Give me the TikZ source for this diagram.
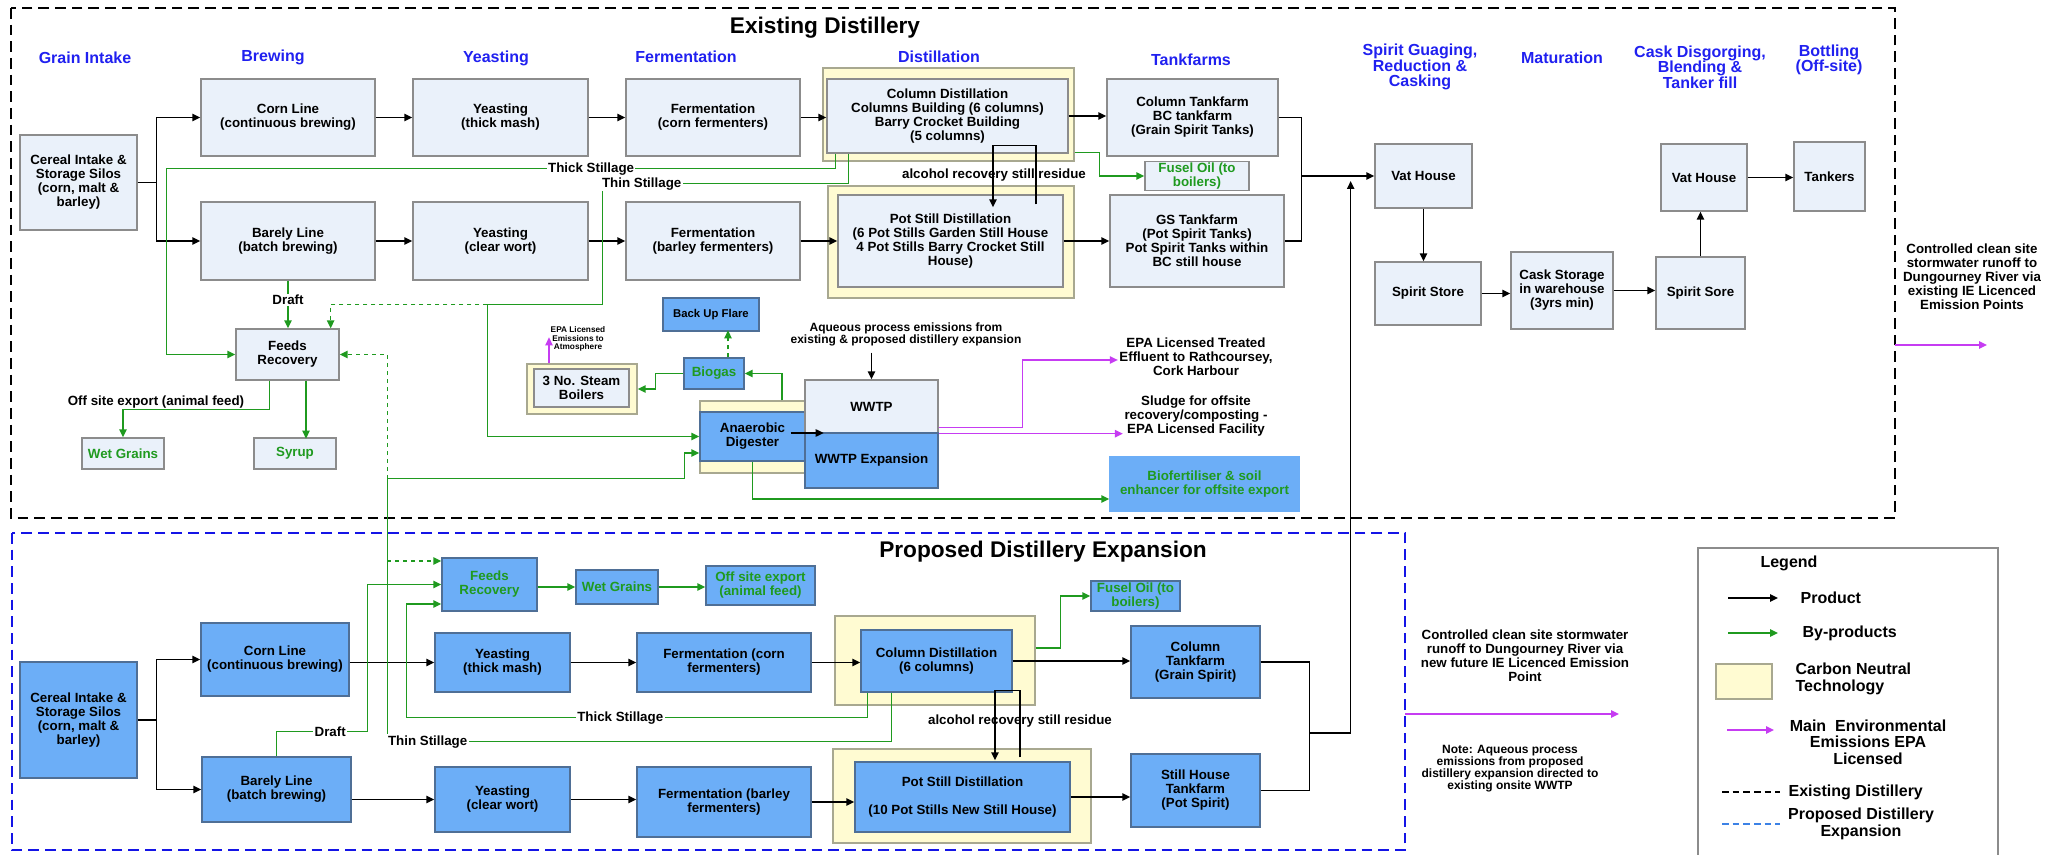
\documentclass[tikz,border=0pt]{standalone}
\usepackage{fontspec}
\setmainfont{Liberation Sans}
\usepackage{tikz}
\usetikzlibrary{arrows.meta, calc}
\definecolor{boxfill}{HTML}{EAF1FA}
\definecolor{boxline}{HTML}{8C8C8C}
\definecolor{bluefill}{HTML}{6CAEF7}
\definecolor{blueline}{HTML}{4F6F96}
\definecolor{cntfill}{HTML}{FFFBD2}
\definecolor{cntline}{HTML}{A8A890}
\definecolor{bygreen}{HTML}{1F9A1F}
\definecolor{emispink}{HTML}{C63CF2}
\definecolor{hdrblue}{HTML}{2020F0}
\definecolor{propblue}{HTML}{1414E6}
\definecolor{legblue}{HTML}{3C82E6}
\tikzset{
  sz/.style 2 args = {minimum width=#1*0.75pt, minimum height=#2*0.75pt},
  procbox/.style = {rectangle, draw=boxline, fill=boxfill, line width=1pt, align=center, inner sep=1pt, font=\fontsize{10}{10.5}\selectfont\bfseries},
  proc_b/.style = {procbox, draw=blueline, fill=bluefill},
  proc_g/.style = {proc_b, text=bygreen},
  cnt_y/.style = {rectangle, draw=cntline, fill=cntfill, line width=1pt},
  hdr/.style = {align=center, text=hdrblue, font=\fontsize{12}{11.6}\selectfont\bfseries},
  lbl/.style = {align=center, inner sep=1pt, font=\fontsize{10}{10.5}\selectfont\bfseries},
  note/.style = {lbl, font=\fontsize{9}{9}\selectfont\bfseries},
  lgd/.style = {lbl, font=\fontsize{12}{12.5}\selectfont\bfseries},
  wire/.style = {draw=black, line width=1.2pt},
  prod/.style = {wire, -{Triangle[length=6pt,width=5.5pt]}},
  byp/.style = {draw=bygreen, line width=1.1pt, -{Triangle[length=6pt,width=5.5pt]}},
  emis/.style = {draw=emispink, line width=1.1pt, -{Triangle[length=6pt,width=5.5pt]}},
  exist_fr/.style = {draw=black, line width=2.2pt, dash pattern=on 8pt off 4.5pt},
  prop_fr/.style = {draw=propblue, line width=2.2pt, dash pattern=on 8pt off 4.5pt}
}
\begin{document}
\begin{tikzpicture}[x=0.75pt, y=-0.75pt]
\useasboundingbox (0,0) rectangle (2053,855);
\fill[white] (0,0) rectangle (2053,855);
\draw[exist_fr] (11,8) rectangle (1895,518);
\draw[prop_fr] (12,533) rectangle (1405,850);
\node[font=\fontsize{17}{17}\selectfont\bfseries] (t_exist) at (825,28) {Existing Distillery};
\node[font=\fontsize{17}{17}\selectfont\bfseries] (t_prop) at (1043,552) {Proposed Distillery Expansion};

\node[hdr] (h_grain) at (85,58) {Grain Intake};
\node[hdr] (h_brew) at (273,57) {Brewing};
\node[hdr] (h_yeast) at (496,58) {Yeasting};
\node[hdr] (h_ferm) at (686,57) {Fermentation};
\node[hdr] (h_dist) at (939,57) {Distillation};
\node[hdr] (h_tank) at (1191,60) {Tankfarms};
\node[hdr] (h_spirit) at (1420,67) {Spirit Guaging,\\Reduction \&\\Casking};
\node[hdr] (h_mat) at (1562,58) {Maturation};
\node[hdr] (h_cask) at (1700,67) {Cask Disgorging,\\Blending \&\\Tanker fill};
\node[hdr] (h_bottle) at (1829,60) {Bottling\\(Off-site)};

\node[cnt_y, sz={251}{93}] (coldist_y) at (948.5,114.5) {};
\node[cnt_y, sz={246}{112}] (potdist_y) at (951,242) {};
\node[cnt_y, sz={110}{50}] (boil_y) at (582,389) {};
\node[cnt_y, sz={105}{72}] (ad_y) at (752.5,437) {};
\node[cnt_y, sz={200}{89}] (coldist2_y) at (935,660.5) {};
\node[cnt_y, sz={258}{94}] (potdist2_y) at (962,796) {};

\node[procbox, sz={117}{95}] (cereal) at (78.5,182.5) {Cereal Intake \&\\Storage Silos\\(corn, malt \&\\barley)};
\node[procbox, sz={174}{77}] (corn) at (288,117.5) {Corn Line\\(continuous brewing)};
\node[procbox, sz={175}{77}] (yeast_a) at (500.5,117.5) {Yeasting\\(thick mash)};
\node[procbox, sz={174}{77}] (ferm_a) at (713,117.5) {Fermentation\\(corn fermenters)};
\node[procbox, sz={241}{74}] (coldist) at (947.5,116) {Column Distillation\\Columns Building (6 columns)\\Barry Crocket Building\\(5 columns)};
\node[procbox, sz={171}{77}] (tank_a) at (1192.5,117.5) {Column Tankfarm\\BC tankfarm\\(Grain Spirit Tanks)};
\node[procbox, sz={174}{78}] (barley) at (288,241) {Barely Line\\(batch brewing)};
\node[procbox, sz={175}{78}] (yeast_b) at (500.5,241) {Yeasting\\(clear wort)};
\node[procbox, sz={174}{78}] (ferm_b) at (713,241) {Fermentation\\(barley fermenters)};
\node[procbox, sz={225}{92}] (potdist) at (950.5,241) {Pot Still Distillation\\(6 Pot Stills Garden Still House\\4 Pot Stills Barry Crocket Still\\House)};
\node[procbox, sz={174}{92}] (tank_b) at (1197,241) {GS Tankfarm\\(Pot Spirit Tanks)\\Pot Spirit Tanks within\\BC still house};
\node[procbox, sz={104}{26}, text=bygreen] (fusel) at (1197,176) {Fusel Oil (to\\boilers)};
\node[procbox, sz={97}{64}] (vat_a) at (1423.5,176) {Vat House};
\node[procbox, sz={106}{63}] (store) at (1428,293.5) {Spirit Store};
\node[procbox, sz={102}{77}] (cask) at (1562,290.5) {Cask Storage\\in warehouse\\(3yrs min)};
\node[procbox, sz={89}{72}] (sore) at (1700.5,293) {Spirit Sore};
\node[procbox, sz={86}{67}] (vat_b) at (1704,177.5) {Vat House};
\node[procbox, sz={71}{69}] (tankers) at (1829.5,176.5) {Tankers};
\node[procbox, sz={103}{51}] (feeds) at (287.5,354.5) {Feeds\\Recovery};
\node[procbox, sz={82}{31}, text=bygreen] (wet) at (123,453.5) {Wet Grains};
\node[procbox, sz={82}{31}, text=bygreen] (syrup) at (295,453.5) {Syrup};
\node[procbox, sz={95}{38}] (boil) at (581.5,388) {3 No. Steam\\Boilers};
\node[proc_b, sz={96}{33}, font=\fontsize{8.5}{9}\selectfont\bfseries] (flare) at (711,314.5) {Back Up Flare};
\node[proc_g, sz={60}{31}] (biogas) at (714,373.5) {Biogas};
\node[proc_b, sz={105}{49}] (ad) at (752.5,436.5) {Anaerobic\\Digester};
\node[procbox, sz={133}{53}] (wwtp) at (871.5,406.5) {WWTP};
\node[proc_b, sz={133}{55}] (wwtp_x) at (871.5,460.5) {WWTP Expansion};
\node[proc_g, sz={189}{54}, draw=bluefill] (biofert) at (1204.5,484) {Biofertiliser \& soil\\enhancer for offsite export};

\node[proc_b, sz={117}{116}] (cereal2) at (78.5,720) {Cereal Intake \&\\Storage Silos\\(corn, malt \&\\barley)};
\node[proc_b, sz={148}{73}] (corn2) at (275,659.5) {Corn Line\\(continuous brewing)};
\node[proc_b, sz={149}{65}] (barley2) at (276.5,789.5) {Barely Line\\(batch brewing)};
\node[proc_b, sz={135}{59}] (yeast_a2) at (502.5,662.5) {Yeasting\\(thick mash)};
\node[proc_b, sz={135}{65}] (yeast_b2) at (502.5,799.5) {Yeasting\\(clear wort)};
\node[proc_g, sz={95}{53}] (feeds2) at (489.5,584.5) {Feeds\\Recovery};
\node[proc_g, sz={82}{34}] (wet2) at (617,587) {Wet Grains};
\node[proc_g, sz={109}{39}] (offsite2) at (760.5,585.5) {Off site export\\(animal feed)};
\node[proc_b, sz={174}{59}] (ferm_a2) at (724,662.5) {Fermentation (corn\\fermenters)};
\node[proc_b, sz={174}{70}] (ferm_b2) at (724,802) {Fermentation (barley\\fermenters)};
\node[proc_b, sz={151}{62}] (coldist2) at (936.5,661) {Column Distillation\\(6 columns)};
\node[proc_g, sz={89}{30}] (fusel2) at (1135.5,596) {Fusel Oil (to\\boilers)};
\node[proc_b, sz={129}{72}] (tank_a2) at (1195.5,662) {Column\\Tankfarm\\(Grain Spirit)};
\node[proc_b, sz={215}{70}] (potdist2) at (962.5,797) {Pot Still Distillation\\[10pt](10 Pot Stills New Still House)};
\node[proc_b, sz={129}{73}] (tank_b2) at (1195.5,790.5) {Still House\\Tankfarm\\(Pot Spirit)};

\node[lbl] (l_offsite) at (156,402) {Off site export (animal feed)};
\node[lbl] (l_alc) at (994,175) {alcohol recovery still residue};
\node[lbl] (l_alc2) at (1020,721) {alcohol recovery still residue};
\node[lbl, font=\fontsize{6.2}{6.5}\selectfont\bfseries] (l_epa_atm) at (578,339) {EPA Licensed\\Emissions to\\Atmosphere};
\node[note] (l_aqueous) at (906,334) {Aqueous process emissions from\\existing \& proposed distillery expansion};
\node[lbl] (eff) at (1196,357) {EPA Licensed Treated\\Effluent to Rathcoursey,\\Cork Harbour};
\node[lbl] (sludge) at (1196,416) {Sludge for offsite\\recovery/composting -\\EPA Licensed Facility};
\node[lbl] (storm_a) at (1972,277) {Controlled clean site\\stormwater runoff to\\Dungourney River via\\existing IE Licenced\\Emission Points};
\node[lbl] (storm_b) at (1525,656) {Controlled clean site stormwater\\runoff to Dungourney River via\\new future IE Licenced Emission\\Point};
\node[note] (note_b) at (1510,769) {Note: Aqueous process\\emissions from proposed\\distillery expansion directed to\\existing onsite WWTP};

\draw[prod] (cereal.east) -- ++(19,0) coordinate (split_a) |- (corn.west);
\draw[prod] (split_a) |- (barley.west);
\draw[prod] (corn.east) -- (yeast_a.west);
\draw[prod] (yeast_a.east) -- (ferm_a.west);
\draw[prod] (ferm_a.east) -- (ferm_a.east -| coldist.west);
\draw[prod] (coldist.east) -- (coldist.east -| tank_a.west);
\draw[prod] (barley.east) -- (yeast_b.west);
\draw[prod] (yeast_b.east) -- (ferm_b.west);
\draw[prod] (ferm_b.east) -- (ferm_b.east -| potdist.west);
\draw[prod] (potdist.east) -- (potdist.east -| tank_b.west);
\draw[prod] ($(potdist.north)+(85.5,10)$) -- ++(0,-59) -- ++(-43,0) -- ++(0,62);
\draw[wire] (tank_a.east) -- ++(23,0) -- ($(tank_b.east)+(17,0)$) -- (tank_b.east);
\coordinate (j_top) at ($(tank_a.east)+(23,58.5)$);
\draw[prod] (j_top) -- (vat_a.west);
\draw[prod] (vat_a.south) -- (vat_a.south |- store.north);
\draw[prod] (store.east) -- (store.east -| cask.west);
\draw[prod] (cask.east) -- (cask.east -| sore.west);
\draw[prod] (sore.north) -- (sore.north |- vat_b.south);
\draw[prod] (vat_b.east) -- (vat_b.east -| tankers.west);
\draw[prod] ([yshift=-4pt]l_aqueous.south -| wwtp.north) -- (wwtp.north);
\draw[prod] ($(ad.east)+(-15,-3.5)$) -- ++(33,0);

\draw[byp] ($(coldist.south west)+(9,0)$) -- ++(0,15) -- node[lbl, fill=white, pos=0.365]{Thick Stillage} ++(-669,0) |- (feeds.west);
\draw[byp] ($(coldist.south west)+(22,0)$) -- ++(0,30) -- node[lbl, fill=white, pos=0.84]{Thin Stillage} ++(-246,0) -- ++(0,121) -- ++(-115,0) coordinate (tk) |- (ad.west);
\draw[byp, dashed] (tk) -| ($(feeds.north east)+(-9,0)$);
\draw[byp] (barley.south) -- node[lbl, fill=white, pos=0.4]{Draft} (barley.south |- feeds.north);
\draw[byp] ($(feeds.south west)+(34,0)$) -- ++(0,29) -| (wet.north);
\draw[byp] ($(feeds.south)+(18.5,0)$) -- ++(0,58);
\draw[byp] ($(coldist_y.south east)+(0,-9)$) -- ++(25,0) |- (fusel.west);
\draw[byp] ($(ad_y.north)+(29.5,0)$) |- (biogas.east);
\draw[byp] (biogas.west) -- ++(-28,0) |- (boil_y.east);
\draw[byp, dashed] ($(biogas.north)+(14,0)$) -- ++(0,-27);
\draw[byp] (ad.south) |- ($(biofert.west)+(0,15)$);
\draw[emis] ($(boil_y.north)+(-33,0)$) -- ++(0,-26);
\draw[emis] ($(wwtp.south east)+(0,-6)$) -- ++(84,0) |- ($(eff.west)+(0,3)$);
\draw[emis] (wwtp.south east) -- (wwtp.south east -| sludge.west);
\coordinate (storm_a_in) at (1895,345);
\draw[emis] (storm_a_in) -- ++(92,0);

\draw[prod] (cereal2.east) -- ++(19,0) coordinate (split_b) |- (corn2.west);
\draw[prod] (split_b) |- (barley2.west);
\draw[prod] (corn2.east |- yeast_a2.west) -- (yeast_a2.west);
\draw[prod] (yeast_a2.east) -- (yeast_a2.east -| ferm_a2.west);
\draw[prod] (ferm_a2.east) -- (ferm_a2.east -| coldist2.west);
\draw[prod] (coldist2.east) -- (coldist2.east -| tank_a2.west);
\draw[prod] (barley2.east |- yeast_b2.west) -- (yeast_b2.west);
\draw[prod] (yeast_b2.east) -- (yeast_b2.east -| ferm_b2.west);
\draw[prod] (ferm_b2.east) -- (ferm_b2.east -| potdist2.west);
\draw[prod] (potdist2.east) -- (potdist2.east -| tank_b2.west);
\draw[prod] ($(potdist2.north)+(57.5,-4)$) -- ++(0,-67) -- ++(-25,0) -- ++(0,70);
\draw[wire] (tank_a2.east) -- ++(49,0) -- ($(tank_b2.east)+(49,0)$) -- (tank_b2.east);
\coordinate (j_bot) at ($(tank_a2.east)+(49,71)$);
\draw[prod] (j_bot) -- ++(41,0) coordinate (j_up) -- ($(j_up |- vat_a.west)+(0,5)$);

\draw[byp] ($(coldist2.south west)+(7,0)$) -- ++(0,25) -- node[lbl, fill=white, pos=0.536]{Thick Stillage} ++(-461,0) |- ($(feeds2.west)+(0,19.5)$);
\draw[byp] ($(coldist2.south west)+(31,0)$) -- ++(0,49) -- node[lbl, fill=white, pos=0.92]{Thin Stillage} ++(-504,0) -- ++(0,-263) coordinate (tb) -- ++(297,0) |- ($(ad.west)+(0,16.5)$);
\draw[byp, dashed] (tb) |- (feeds.east);
\draw[byp, dashed] ($(feeds2.west)+(-54,-23.5)$) -- ($(feeds2.west)+(0,-23.5)$);
\draw[byp] (barley2.north) -- ++(0,-25) -- node[lbl, fill=white, pos=0.59]{Draft} ++(91,0) |- (feeds2.west);
\draw[byp] (feeds2.east |- wet2.west) -- (wet2.west);
\draw[byp] (wet2.east) -- (wet2.east -| offsite2.west);
\draw[byp] ($(coldist2_y.east)+(0,-12.5)$) -- ++(25,0) |- (fusel2.west);
\coordinate (storm_b_in) at (1405,714);
\draw[emis] (storm_b_in) -- ++(214,0);

\node[draw=boxline, line width=1.5pt, sz={300}{312}] (legend) at (1848,704) {};
\node[lgd] (leg_title) at (1789,563) {Legend};
\coordinate (leg_p) at (1728,598);
\draw[prod] (leg_p) -- ++(50,0);
\node[lgd, anchor=west] (leg_pt) at (1799,598) {Product};
\coordinate (leg_b) at (1728,633);
\draw[byp] (leg_b) -- ++(50,0);
\node[lgd, anchor=west] (leg_bt) at (1801,633) {By-products};
\node[cnt_y, sz={56}{35}] (leg_c) at (1744,681.5) {};
\node[lgd, anchor=west, align=left] (leg_ct) at (1794,679) {Carbon Neutral\\Technology};
\coordinate (leg_e) at (1727,730);
\draw[emis] (leg_e) -- ++(47,0);
\node[lgd] (leg_et) at (1868,742) {Main\ \ Environmental\\Emissions EPA\\Licensed};
\coordinate (leg_x) at (1722,792);
\draw[line width=2pt, dash pattern=on 5pt off 3pt] (leg_x) -- ++(58,0);
\node[lgd, anchor=west] (leg_xt) at (1787,792) {Existing Distillery};
\coordinate (leg_n) at (1722,824);
\draw[legblue, line width=2pt, dash pattern=on 5pt off 3pt] (leg_n) -- ++(58,0);
\node[lgd] (leg_nt) at (1861,824) {Proposed Distillery\\Expansion};
\end{tikzpicture}
\end{document}
